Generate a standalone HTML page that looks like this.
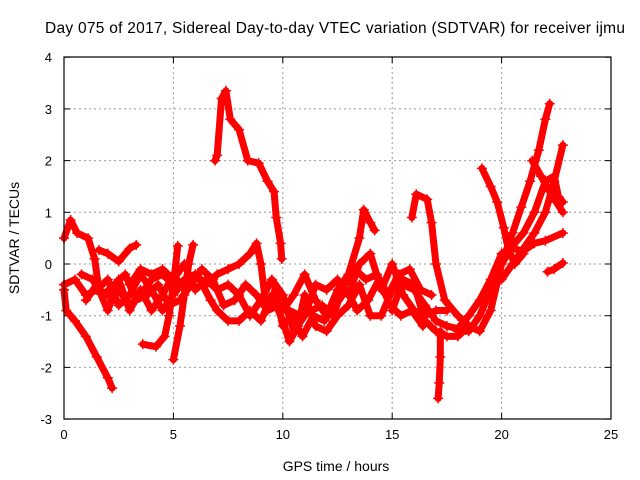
<!DOCTYPE html>
<html><head><meta charset="utf-8"><style>
html,body{margin:0;padding:0;background:#fff;}
svg{display:block;font-family:"Liberation Sans",sans-serif;}
</style></head><body>
<svg id="chart" width="640" height="480" xmlns="http://www.w3.org/2000/svg">
<text x="335" y="33" font-size="15.5" text-anchor="middle" textLength="580">Day 075 of 2017, Sidereal Day-to-day VTEC variation (SDTVAR) for receiver ijmu</text>
<text x="336" y="471" font-size="14" text-anchor="middle">GPS time / hours</text>
<text x="0" y="0" font-size="14" text-anchor="middle" transform="translate(19,238) rotate(-90)">SDTVAR / TECUs</text>
<g id="grid"></g>
<g id="ticks"></g>
<g id="series"></g>
<rect x="64" y="57" width="547" height="362" fill="none" stroke="#000" stroke-width="1.2"/>
</svg>
<script>
const xTicks=[0,5,10,15,20,25];
const yTicks=[-3,-2,-1,0,1,2,3,4];
const traceA=[[0,-0.5],[0.1,-0.9],[0.5,-1.1],[1.0,-1.4],[1.5,-1.8],[2.0,-2.2],[2.2,-2.4]];
const traceB=[[0,0.5],[0.3,0.85],[0.6,0.6],[1.1,0.5],[1.4,0.1],[1.6,-0.5],[2.0,-0.6],[2.5,-0.5],[3.0,-0.8],[3.5,-0.6],[4.0,-0.3],[4.5,-0.2],[5.0,-0.4]];
const traceC=[[6.9,2.0],[7.0,2.1],[7.2,3.2],[7.4,3.35],[7.6,2.8],[8.0,2.6],[8.4,2.0],[8.9,1.95],[9.3,1.6],[9.6,1.4],[9.7,0.9],[9.9,0.4],[9.95,0.1]];
const traceD=[[3.6,-1.55],[4.2,-1.6],[4.6,-1.4],[4.8,-1.0],[5.0,-0.4],[5.2,0.35]];
const traceE=[[5.0,-1.85],[5.3,-1.2],[5.5,-0.6],[5.7,0.0],[5.9,0.37]];
const traceF=[[1.6,0.27],[2.0,0.2],[2.5,0.05],[3.0,0.3],[3.3,0.37]];
const traceG=[[0,-0.4],[0.5,-0.3],[1.0,-0.6],[1.5,-0.5],[2.0,-0.3],[2.5,-0.8],[3.0,-0.6],[3.5,-0.2],[4.0,-0.5],[4.5,-0.9],[5.0,-0.6],[5.5,-0.3],[6.0,-0.2],[6.5,-0.4],[7.0,-0.2],[7.5,-0.1],[8.0,0.0],[8.5,0.2],[8.8,0.4],[9.0,0.0],[9.2,-0.7],[9.5,-0.8],[10.0,-0.9],[10.5,-0.6],[11.0,-0.2],[11.5,-0.7],[12.0,-1.0],[12.5,-0.5],[13.0,-0.2],[13.5,0.5],[13.7,1.05],[14.0,0.8],[14.2,0.65]];
const traceH=[[1.0,-0.7],[1.5,-0.4],[2.0,-0.9],[2.5,-0.3],[3.0,-0.9],[3.5,-0.5],[4.0,-0.9],[4.5,-0.6],[5.0,-0.2],[5.5,-0.5],[6.0,-0.2],[6.2,-0.3],[6.7,-0.7],[7.0,-0.9],[7.5,-1.1],[8.0,-1.1],[8.5,-0.9],[9.0,-1.1],[9.5,-0.6],[10.0,-1.1],[10.3,-1.5],[10.7,-1.2],[11.0,-0.6],[11.5,-1.2],[12.0,-1.3],[12.5,-1.0],[13.0,-0.8],[13.5,-0.4],[14.0,-1.0],[14.5,-1.0],[15.0,-0.5],[15.5,-0.4],[16.0,-0.5],[16.5,-0.8],[17.0,-1.1],[17.5,-1.2],[18.0,-1.25],[18.5,-1.0],[19.0,-0.7],[19.5,-0.3],[20.0,0.2],[20.5,0.3],[21.0,0.25],[21.5,0.4],[22.0,0.45],[22.8,0.6]];
const traceI=[[3.0,-0.4],[3.5,-0.1],[4.0,-0.2],[4.5,-0.1],[5.0,-0.3],[5.5,0.0],[6.0,-0.5],[6.5,-0.3],[7.0,-0.5],[7.5,-0.4],[8.0,-0.6],[8.5,-1.0],[9.0,-0.7],[9.5,-0.3],[10.0,-0.6],[10.5,-1.3],[11.0,-1.0],[11.5,-0.4],[12.0,-0.5],[12.5,-0.3],[13.0,-0.6],[13.5,0.0],[14.0,0.2],[14.5,-0.5],[15.0,0.0],[15.5,-0.6],[16.0,-0.9],[16.5,-1.0],[17.0,-0.9],[17.5,-0.9]];
const traceJ=[[15.9,0.9],[16.1,1.35],[16.6,1.25],[16.8,0.8],[17.0,0.0],[17.4,-0.7],[18.0,-1.0],[18.5,-1.2],[19.0,-1.3],[19.5,-0.9],[20.0,0.0],[20.5,0.35],[21.0,0.6],[21.5,1.0],[22.0,1.6],[22.4,1.7],[22.6,1.3],[22.8,1.2]];
const traceK=[[17.2,-1.3],[17.2,-1.8],[17.15,-2.3],[17.1,-2.6]];
const traceL=[[19.1,1.85],[19.5,1.5],[19.8,1.2],[20.1,0.7],[20.3,0.3],[20.6,0.0],[21.0,0.2]];
const traceM=[[18.0,-1.3],[18.5,-1.3],[19.0,-1.0],[19.5,-0.5],[20.0,0.0],[20.5,0.6],[20.9,1.1],[21.3,1.6],[21.7,2.2],[22.0,2.8],[22.2,3.1]];
const traceN=[[21.4,2.0],[21.8,1.7],[22.2,1.4],[22.5,1.2],[22.8,1.0]];
const traceO=[[20.0,-0.3],[20.5,0.0],[21.0,0.3],[21.5,0.6],[22.0,1.0],[22.4,1.6],[22.8,2.3]];
const traceP=[[22.1,-0.15],[22.4,-0.1],[22.8,0.02]];
const traceQ=[[15.0,-0.9],[15.5,-0.3],[16.0,-0.4],[16.5,-1.1],[17.0,-1.3],[17.5,-1.4],[18.0,-1.4],[18.5,-1.2]];
const traceR=[[0.8,-0.2],[1.3,-0.3],[1.8,-0.6],[2.3,-0.4],[2.8,-0.2],[3.3,-0.7],[3.8,-0.6],[4.3,-0.4],[4.8,-0.8],[5.3,-0.7],[5.8,-0.4],[6.3,-0.1],[6.8,-0.3],[7.3,-0.8],[7.8,-0.7],[8.3,-0.4],[8.8,-0.6],[9.3,-0.9],[9.8,-0.8],[10.3,-0.9],[10.8,-1.0],[11.3,-0.9],[11.8,-0.8],[12.3,-1.0],[12.8,-0.4],[13.3,-0.1],[13.8,-0.3],[14.3,-0.2],[14.8,-0.6],[15.3,-0.2],[15.8,-0.1],[16.3,-0.5],[16.8,-0.6]];
const traceS=[[9.6,-0.4],[10.0,-1.2],[10.4,-1.0],[10.9,-1.4],[11.4,-1.0],[11.9,-1.1],[12.4,-0.8],[12.9,-0.5],[13.4,-0.9],[13.9,-0.7],[14.4,-0.3],[14.9,-0.8],[15.4,-1.0],[15.9,-0.9],[16.4,-1.2]];
const traces=[traceA,traceB,traceC,traceD,traceE,traceF,traceG,traceH,traceI,traceJ,traceK,traceL,traceM,traceN,traceO,traceP,traceQ,traceR,traceS];
const X=h=>64+h*21.88;
const Y=v=>264-v*51.7;
const NS="http://www.w3.org/2000/svg";
const grid=document.getElementById('grid'),ticks=document.getElementById('ticks'),ser=document.getElementById('series');
function mk(t,a,p){const e=document.createElementNS(NS,t);for(const k in a)e.setAttribute(k,a[k]);p.appendChild(e);return e;}
xTicks.forEach(t=>{const x=X(t);
 if(t>0&&t<25){const g=mk('line',{x1:x,x2:x,y1:57,y2:419,stroke:'#999','stroke-dasharray':'2,3'},grid);
 
 }
 mk('line',{x1:x,x2:x,y1:419,y2:413,stroke:'#000'},ticks);mk('line',{x1:x,x2:x,y1:57,y2:63,stroke:'#000'},ticks);
 const l=mk('text',{x:x,y:439,'font-size':13,'text-anchor':'middle'},ticks);l.textContent=t;
 
 });
yTicks.forEach(t=>{const y=Y(t);
 if(t>-3&&t<4){const g=mk('line',{x1:64,x2:611,y1:y,y2:y,stroke:'#999','stroke-dasharray':'2,3'},grid);
 
 }
 mk('line',{x1:64,x2:70,y1:y,y2:y,stroke:'#000'},ticks);mk('line',{x1:611,x2:605,y1:y,y2:y,stroke:'#000'},ticks);
 const l=mk('text',{x:52,y:y+5,'font-size':13,'text-anchor':'end'},ticks);l.textContent=t;
 
 });
traces.forEach((tr,i)=>{
 const p=mk('polyline',{points:tr.map(d=>X(d[0])+','+Y(d[1])).join(' '),fill:'none',stroke:'#f00','stroke-width':7,'stroke-linejoin':'round','stroke-linecap':'round'},ser);
 
 
 tr.forEach(d=>{const x=X(d[0]),y=Y(d[1]);
  const m=mk('path',{d:`M${x-5},${y}h10M${x},${y-5}v10`,stroke:'#f00','stroke-width':1.5},ser);
  
  });
});
</script>
</body></html>
